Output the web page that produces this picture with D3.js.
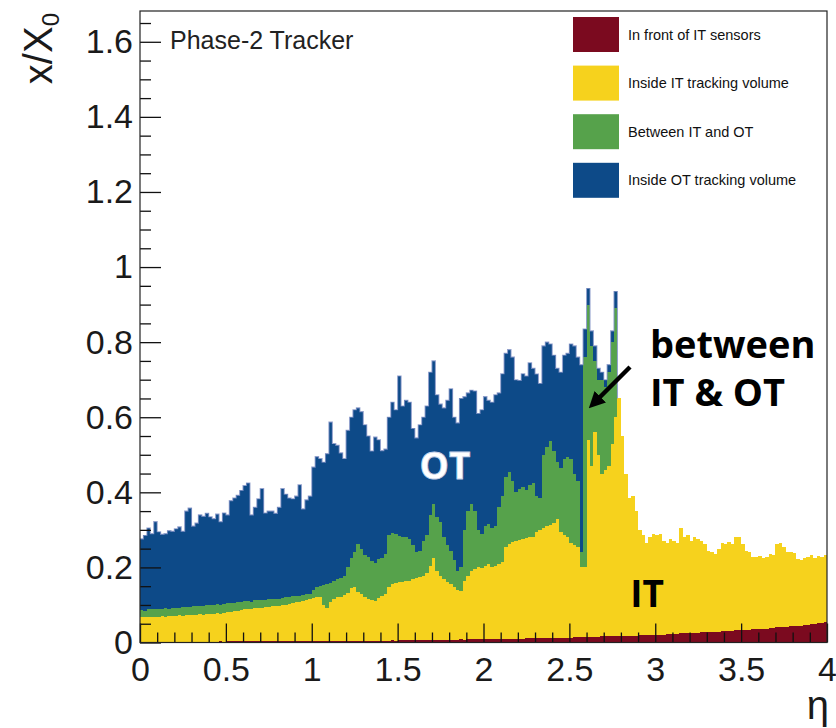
<!DOCTYPE html>
<html>
<head>
<meta charset="utf-8">
<script src="https://cdn.jsdelivr.net/npm/d3@7"></script>
<style>
  html, body { margin: 0; padding: 0; background: #fff; }
  svg { display: block; }
</style>
</head>
<body>
<svg id="chart" width="836" height="728"></svg>
<script>
// Material budget of the Phase-2 tracker versus pseudorapidity.
// Histogram bins of 0.02 in eta; every array holds the running total x/X0
// up to the outer edge of the named region (stack order: front of IT,
// inside IT, between IT and OT, inside OT).
const binWidth = 0.02;

const frontIT = [
  0.002,0.002,0.002,0.002,0.002,0.002,0.002,0.002,0.002,0.002,
  0.002,0.002,0.002,0.002,0.002,0.002,0.002,0.002,0.002,0.002,
  0.002,0.002,0.002,0.003,0.002,0.003,0.003,0.003,0.003,0.003,
  0.003,0.003,0.003,0.003,0.003,0.003,0.003,0.003,0.003,0.003,
  0.003,0.003,0.003,0.004,0.003,0.004,0.004,0.004,0.004,0.004,
  0.004,0.004,0.004,0.004,0.004,0.004,0.004,0.004,0.004,0.004,
  0.004,0.004,0.005,0.004,0.005,0.005,0.005,0.005,0.005,0.005,
  0.005,0.005,0.005,0.006,0.005,0.006,0.006,0.006,0.006,0.006,
  0.006,0.006,0.006,0.006,0.007,0.006,0.007,0.007,0.007,0.007,
  0.007,0.007,0.007,0.008,0.007,0.008,0.008,0.008,0.008,0.008,
  0.008,0.008,0.009,0.009,0.009,0.009,0.010,0.010,0.010,0.010,
  0.010,0.010,0.011,0.011,0.011,0.011,0.011,0.012,0.012,0.012,
  0.012,0.012,0.013,0.013,0.013,0.013,0.014,0.014,0.014,0.014,
  0.015,0.015,0.015,0.015,0.016,0.016,0.016,0.016,0.017,0.017,
  0.017,0.017,0.018,0.018,0.018,0.019,0.019,0.019,0.020,0.020,
  0.020,0.021,0.021,0.022,0.022,0.023,0.023,0.024,0.024,0.025,
  0.025,0.026,0.026,0.027,0.027,0.028,0.028,0.029,0.029,0.030,
  0.030,0.031,0.031,0.032,0.032,0.033,0.034,0.034,0.035,0.035,
  0.036,0.037,0.037,0.038,0.039,0.040,0.040,0.041,0.042,0.043,
  0.044,0.044,0.045,0.046,0.047,0.048,0.050,0.051,0.053,0.055
];

const insideIT = [
  0.068,0.067,0.068,0.069,0.068,0.069,0.070,0.069,0.071,0.070,
  0.071,0.072,0.071,0.073,0.072,0.073,0.074,0.075,0.074,0.076,
  0.076,0.077,0.078,0.077,0.079,0.080,0.082,0.083,0.085,0.086,
  0.088,0.089,0.090,0.091,0.092,0.093,0.094,0.095,0.096,0.097,
  0.098,0.100,0.101,0.103,0.105,0.107,0.109,0.110,0.113,0.116,
  0.118,0.120,0.121,0.100,0.092,0.108,0.115,0.120,0.122,0.126,
  0.132,0.145,0.148,0.135,0.128,0.122,0.115,0.112,0.110,0.118,
  0.125,0.130,0.148,0.155,0.158,0.160,0.162,0.165,0.163,0.170,
  0.172,0.175,0.178,0.185,0.205,0.226,0.190,0.178,0.170,0.160,
  0.155,0.148,0.140,0.138,0.165,0.178,0.190,0.195,0.200,0.198,
  0.205,0.210,0.200,0.205,0.210,0.215,0.255,0.262,0.268,0.270,
  0.272,0.275,0.278,0.280,0.282,0.295,0.300,0.305,0.310,0.312,
  0.318,0.330,0.295,0.285,0.280,0.265,0.260,0.255,0.200,0.200,
  0.540,0.470,0.560,0.500,0.450,0.460,0.470,0.530,0.600,0.650,
  0.550,0.450,0.385,0.390,0.350,0.300,0.285,0.265,0.280,0.290,
  0.285,0.290,0.270,0.265,0.275,0.270,0.265,0.305,0.280,0.285,
  0.270,0.280,0.275,0.270,0.262,0.245,0.240,0.235,0.250,0.265,
  0.262,0.268,0.262,0.282,0.280,0.262,0.245,0.240,0.228,0.228,
  0.230,0.226,0.228,0.236,0.232,0.262,0.265,0.255,0.240,0.242,
  0.238,0.222,0.220,0.226,0.228,0.232,0.226,0.230,0.228,0.232
];

const betweenITOT = [
  0.087,0.085,0.090,0.088,0.090,0.089,0.090,0.091,0.090,0.092,
  0.093,0.092,0.094,0.095,0.094,0.096,0.097,0.096,0.098,0.100,
  0.099,0.100,0.102,0.101,0.103,0.105,0.104,0.106,0.108,0.107,
  0.110,0.111,0.109,0.112,0.112,0.113,0.114,0.115,0.116,0.117,
  0.117,0.119,0.120,0.121,0.123,0.124,0.125,0.127,0.128,0.130,
  0.140,0.147,0.150,0.152,0.155,0.158,0.165,0.170,0.173,0.178,
  0.200,0.225,0.240,0.262,0.250,0.232,0.228,0.218,0.212,0.222,
  0.226,0.235,0.285,0.292,0.290,0.283,0.282,0.280,0.275,0.260,
  0.240,0.245,0.270,0.285,0.340,0.370,0.335,0.320,0.280,0.260,
  0.245,0.220,0.190,0.200,0.300,0.350,0.370,0.350,0.300,0.290,
  0.310,0.315,0.305,0.310,0.360,0.390,0.440,0.455,0.430,0.400,
  0.410,0.415,0.405,0.420,0.425,0.390,0.385,0.500,0.520,0.538,
  0.510,0.480,0.465,0.490,0.495,0.490,0.450,0.430,0.240,0.760,
  0.900,0.790,0.750,0.700,0.700,0.680,0.720,0.800,0.890,0.650,
  0.550,0.450,0.385,0.390,0.350,0.300,0.285,0.265,0.280,0.290,
  0.285,0.290,0.270,0.265,0.275,0.270,0.265,0.305,0.280,0.285,
  0.270,0.280,0.275,0.270,0.262,0.245,0.240,0.235,0.250,0.265,
  0.262,0.268,0.262,0.282,0.280,0.262,0.245,0.240,0.228,0.228,
  0.230,0.226,0.228,0.236,0.232,0.262,0.265,0.255,0.240,0.242,
  0.238,0.222,0.220,0.226,0.228,0.232,0.226,0.230,0.228,0.232
];

const insideOT = [
  0.276,0.285,0.305,0.290,0.322,0.295,0.288,0.290,0.298,0.296,
  0.303,0.308,0.296,0.350,0.358,0.310,0.318,0.340,0.336,0.344,
  0.335,0.330,0.342,0.322,0.345,0.340,0.378,0.385,0.392,0.405,
  0.418,0.425,0.340,0.360,0.383,0.410,0.345,0.350,0.350,0.344,
  0.360,0.410,0.395,0.385,0.383,0.390,0.420,0.356,0.380,0.390,
  0.467,0.495,0.490,0.480,0.503,0.587,0.530,0.525,0.505,0.490,
  0.565,0.600,0.620,0.625,0.615,0.580,0.550,0.510,0.547,0.540,
  0.511,0.515,0.600,0.640,0.620,0.710,0.630,0.645,0.640,0.570,
  0.545,0.580,0.600,0.630,0.720,0.750,0.660,0.635,0.625,0.645,
  0.676,0.600,0.585,0.650,0.655,0.665,0.672,0.670,0.610,0.620,
  0.655,0.645,0.640,0.660,0.665,0.716,0.770,0.780,0.760,0.700,
  0.698,0.716,0.710,0.745,0.730,0.715,0.690,0.790,0.800,0.795,
  0.765,0.730,0.720,0.765,0.770,0.795,0.790,0.760,0.740,0.835,
  0.943,0.830,0.790,0.730,0.720,0.700,0.740,0.830,0.935,0.650,
  0.550,0.450,0.385,0.390,0.350,0.300,0.285,0.265,0.280,0.290,
  0.285,0.290,0.270,0.265,0.275,0.270,0.265,0.305,0.280,0.285,
  0.270,0.280,0.275,0.270,0.262,0.245,0.240,0.235,0.250,0.265,
  0.262,0.268,0.262,0.282,0.280,0.262,0.245,0.240,0.228,0.228,
  0.230,0.226,0.228,0.236,0.232,0.262,0.265,0.255,0.240,0.242,
  0.238,0.222,0.220,0.226,0.228,0.232,0.226,0.230,0.228,0.232
];

const regionNames = [
  "In front of IT sensors",
  "Inside IT tracking volume",
  "Between IT and OT",
  "Inside OT tracking volume"
];
const regionColors = ["#7b0a1f", "#f6d21d", "#56a24b", "#0d4a88"];

const xMajorTicks = [0, 0.5, 1, 1.5, 2, 2.5, 3, 3.5, 4];
const xTickLabels = ["0", "0.5", "1", "1.5", "2", "2.5", "3", "3.5", "4"];
const yMajorTicks = [0, 0.2, 0.4, 0.6, 0.8, 1, 1.2, 1.4, 1.6];
const yTickLabels = ["0", "0.2", "0.4", "0.6", "0.8", "1", "1.2", "1.4", "1.6"];

// ---------------------------------------------------------------------------
const svg = d3.select("#chart");
const plot = { left: 140, right: 827, top: 11, bottom: 642.5 };

const x = d3.scaleLinear().domain([0, 4]).range([plot.left, plot.right]);
const y = d3.scaleLinear().domain([0, 1.682]).range([plot.bottom, plot.top]);

const cumulative = [frontIT, insideIT, betweenITOT, insideOT];
const nBins = frontIT.length;

// One point per bin low edge, plus a closing point at the upper edge.
const points = d3.range(nBins + 1).map(i => ({ eta: i * binWidth, k: Math.min(i, nBins - 1) }));

svg.append("defs").append("clipPath").attr("id", "plotClip")
  .append("rect")
  .attr("x", plot.left).attr("y", plot.top)
  .attr("width", plot.right - plot.left).attr("height", plot.bottom - plot.top);

const bands = svg.append("g").attr("clip-path", "url(#plotClip)");

// Stack drawn like a THStack: each running total filled from zero,
// outermost region first so the inner regions cover it.
for (let li = cumulative.length - 1; li >= 0; li--) {
  const upper = cumulative[li];
  const area = d3.area()
    .curve(d3.curveStepAfter)
    .x(d => x(d.eta))
    .y0(y(0))
    .y1(d => y(upper[d.k]));
  bands.append("path")
    .datum(points)
    .attr("d", area)
    .attr("fill", regionColors[li])
    .attr("shape-rendering", "crispEdges");
}

// Soft outline along the OT envelope where that region has material.
const otEdge = d3.line()
  .curve(d3.curveStepAfter)
  .x(d => x(d.eta))
  .y(d => y(insideOT[d.k]));
bands.append("path")
  .datum(points.filter(d => d.eta <= 2.781))
  .attr("d", otEdge)
  .attr("fill", "none")
  .attr("stroke", "#7f91c4")
  .attr("stroke-width", 1.1)
  .attr("opacity", 0.85);

// ---------------------------------------------------------------------------
// Axes: ROOT-style ticks drawn inward from the frame.
const tickFont = "'Liberation Sans', Arial, Helvetica, sans-serif";

const xMinor = d3.range(0, 41).map(i => i / 10).filter(v => Math.abs(v * 2 - Math.round(v * 2)) > 1e-6);
const yMinor = d3.range(0, 34).map(i => i * 0.05).filter(v => Math.abs(v * 5 - Math.round(v * 5)) > 1e-6);

const xAxisMajor = d3.axisBottom(x).tickValues(xMajorTicks)
  .tickSize(-19).tickPadding(14)
  .tickFormat((d, i) => xTickLabels[i]);
const xAxisMinor = d3.axisBottom(x).tickValues(xMinor).tickSize(-10).tickFormat("");

const yAxisMajor = d3.axisLeft(y).tickValues(yMajorTicks)
  .tickSize(-21).tickPadding(7)
  .tickFormat((d, i) => yTickLabels[i]);
const yAxisMinor = d3.axisLeft(y).tickValues(yMinor).tickSize(-11).tickFormat("");

function styleAxis(g) {
  g.select(".domain").remove();
  g.selectAll(".tick line").attr("stroke", "#111").attr("stroke-width", 1.3);
  g.selectAll(".tick text")
    .attr("fill", "#1a1a1a")
    .style("font-family", tickFont)
    .style("font-size", "34px");
}

svg.append("g").attr("transform", `translate(0,${plot.bottom})`).call(xAxisMinor).call(styleAxis);
svg.append("g").attr("transform", `translate(0,${plot.bottom})`).call(xAxisMajor).call(styleAxis);
svg.append("g").attr("transform", `translate(${plot.left},0)`).call(yAxisMinor).call(styleAxis);
svg.append("g").attr("transform", `translate(${plot.left},0)`).call(yAxisMajor).call(styleAxis);

// Frame
svg.append("rect")
  .attr("x", plot.left).attr("y", plot.top)
  .attr("width", plot.right - plot.left).attr("height", plot.bottom - plot.top)
  .attr("fill", "none").attr("stroke", "#222").attr("stroke-width", 1.2);

// Axis titles
svg.append("text")
  .attr("x", 829).attr("y", 719)
  .attr("text-anchor", "end")
  .style("font-family", tickFont)
  .style("font-size", "40px")
  .attr("fill", "#1a1a1a")
  .text("η");

const yTitle = svg.append("text")
  .attr("transform", "translate(52,13) rotate(-90)")
  .attr("text-anchor", "end")
  .style("font-family", tickFont)
  .style("font-size", "40px")
  .attr("fill", "#1a1a1a");
yTitle.append("tspan").text("x/X");
yTitle.append("tspan").attr("dy", 7).style("font-size", "24px").text("0");

// Header label
svg.append("text")
  .attr("x", 170).attr("y", 49)
  .style("font-family", tickFont)
  .style("font-size", "25px")
  .attr("fill", "#222")
  .text("Phase-2 Tracker");

// Legend
const legend = svg.append("g");
regionNames.forEach((name, i) => {
  const top = 17 + i * 48.6;
  legend.append("rect")
    .attr("x", 573).attr("y", top)
    .attr("width", 46).attr("height", 35)
    .attr("fill", regionColors[i]);
  legend.append("text")
    .attr("x", 628).attr("y", top + 17.5)
    .attr("dy", "0.35em")
    .style("font-family", tickFont)
    .style("font-size", "14.5px")
    .attr("fill", "#111")
    .text(name);
});

// Region annotations
const noteFont = "'Open Sans', 'Liberation Sans', Arial, sans-serif";

svg.append("text")
  .attr("x", 445).attr("y", 479)
  .attr("text-anchor", "middle")
  .style("font-family", noteFont).style("font-weight", 700).style("font-size", "37px")
  .attr("fill", "#fff")
  .attr("stroke", "#c8d2ea").attr("stroke-width", 0.8)
  .text("OT");

svg.append("text")
  .attr("x", 647).attr("y", 607)
  .attr("text-anchor", "middle")
  .style("font-family", noteFont).style("font-weight", 700).style("font-size", "37px")
  .attr("fill", "#000")
  .text("IT");

const between = svg.append("text")
  .style("font-family", noteFont).style("font-weight", 700).style("font-size", "38px")
  .attr("fill", "#000");
between.append("tspan").attr("x", 650).attr("y", 358).text("between");
between.append("tspan").attr("x", 650).attr("y", 406).text("IT & OT");

// Arrow pointing at the IT/OT gap
svg.append("defs").append("marker")
  .attr("id", "arrowHead")
  .attr("viewBox", "0 0 10 10")
  .attr("refX", 2).attr("refY", 5)
  .attr("markerWidth", 3.6).attr("markerHeight", 3.6)
  .attr("orient", "auto")
  .append("path").attr("d", "M0,0 L10,5 L0,10 Z").attr("fill", "#000");

svg.append("line")
  .attr("x1", 630).attr("y1", 367)
  .attr("x2", 598).attr("y2", 399)
  .attr("stroke", "#000").attr("stroke-width", 4.5)
  .attr("marker-end", "url(#arrowHead)");
</script>
</body>
</html>
